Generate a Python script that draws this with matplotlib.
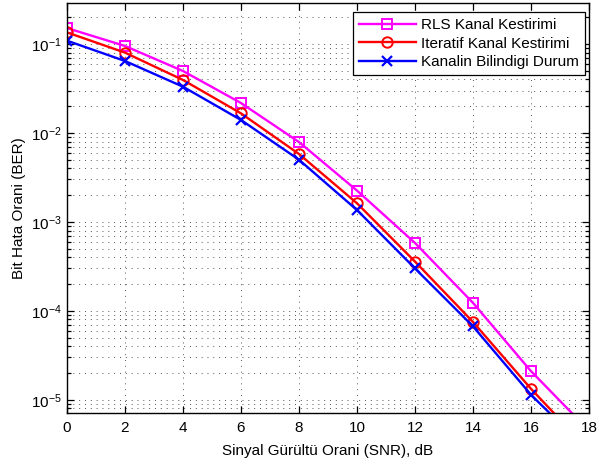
import numpy as np
import matplotlib.pyplot as plt
from matplotlib.ticker import LogLocator, NullFormatter

plt.rcParams['font.family'] = ['Liberation Sans', 'DejaVu Sans']

snr = [0, 2, 4, 6, 8, 10, 12, 14, 16, 18]
ber_rls = [0.151, 0.095, 0.0497, 0.0217, 0.0079, 0.00225, 5.8e-4, 1.23e-4, 2.1e-5, 4.5e-6]
ber_iter = [0.135, 0.080, 0.0394, 0.0166, 0.0058, 0.00162, 3.58e-4, 7.5e-5, 1.33e-5, 2.7e-6]
ber_known = [0.109, 0.0644, 0.0331, 0.014, 0.0050, 0.00136, 3.0e-4, 6.7e-5, 1.14e-5, 2.6e-6]

labels = ['RLS Kanal Kestirimi', 'Iteratif Kanal Kestirimi', 'Kanalin Bilindigi Durum']

fig = plt.figure(figsize=(5.97, 4.61), dpi=100)
ax = fig.add_axes([0.1122, 0.104, 0.8744, 0.8895])

ax.semilogy(snr, ber_rls, '-s', color='#ff00ff', lw=1.7, ms=6.5, mfc='none', mew=1.4, label=labels[0])
ax.semilogy(snr, ber_iter, '-o', color='#ff0000', lw=1.7, ms=7.5, mfc='none', mew=1.4, label=labels[1])
ax.semilogy(snr, ber_known, '-x', color='#0000ff', lw=1.7, ms=6.5, mew=1.6, label=labels[2])

ax.set_xlim(0, 18)
ax.set_ylim(7.1e-6, 0.289)
ax.set_xticks(np.arange(0, 19, 2))
ax.yaxis.set_major_locator(LogLocator(base=10, numticks=10))
ax.yaxis.set_minor_locator(LogLocator(base=10, subs=np.arange(2, 10), numticks=10))
ax.yaxis.set_minor_formatter(NullFormatter())

grid_style = dict(ls=(0, (1, 5)), color='#555555', lw=0.7)
ax.grid(True, which='major', **grid_style)
ax.grid(True, which='minor', axis='y', **grid_style)
ax.tick_params(which='both', direction='in', top=True, right=True, labelsize=11, width=0.9)
ax.tick_params(which='major', length=5)
ax.tick_params(which='minor', length=3)
ax.tick_params(axis='x', pad=6)
for s in ax.spines.values():
    s.set_linewidth(1.0)

ax.set_xlabel('Sinyal Gürültü Orani (SNR), dB', fontsize=11, labelpad=6)
ax.set_ylabel('Bit Hata Orani (BER)', fontsize=11, labelpad=4)

leg = ax.legend(loc='upper right', bbox_to_anchor=(0.9923, 0.978), fontsize=11,
                fancybox=False, framealpha=1, edgecolor='black', handlelength=3.7,
                borderaxespad=0, labelspacing=0.3, borderpad=0.4, handletextpad=0.35)
leg.get_frame().set_linewidth(0.9)

fig.savefig('out.png', dpi=100)
